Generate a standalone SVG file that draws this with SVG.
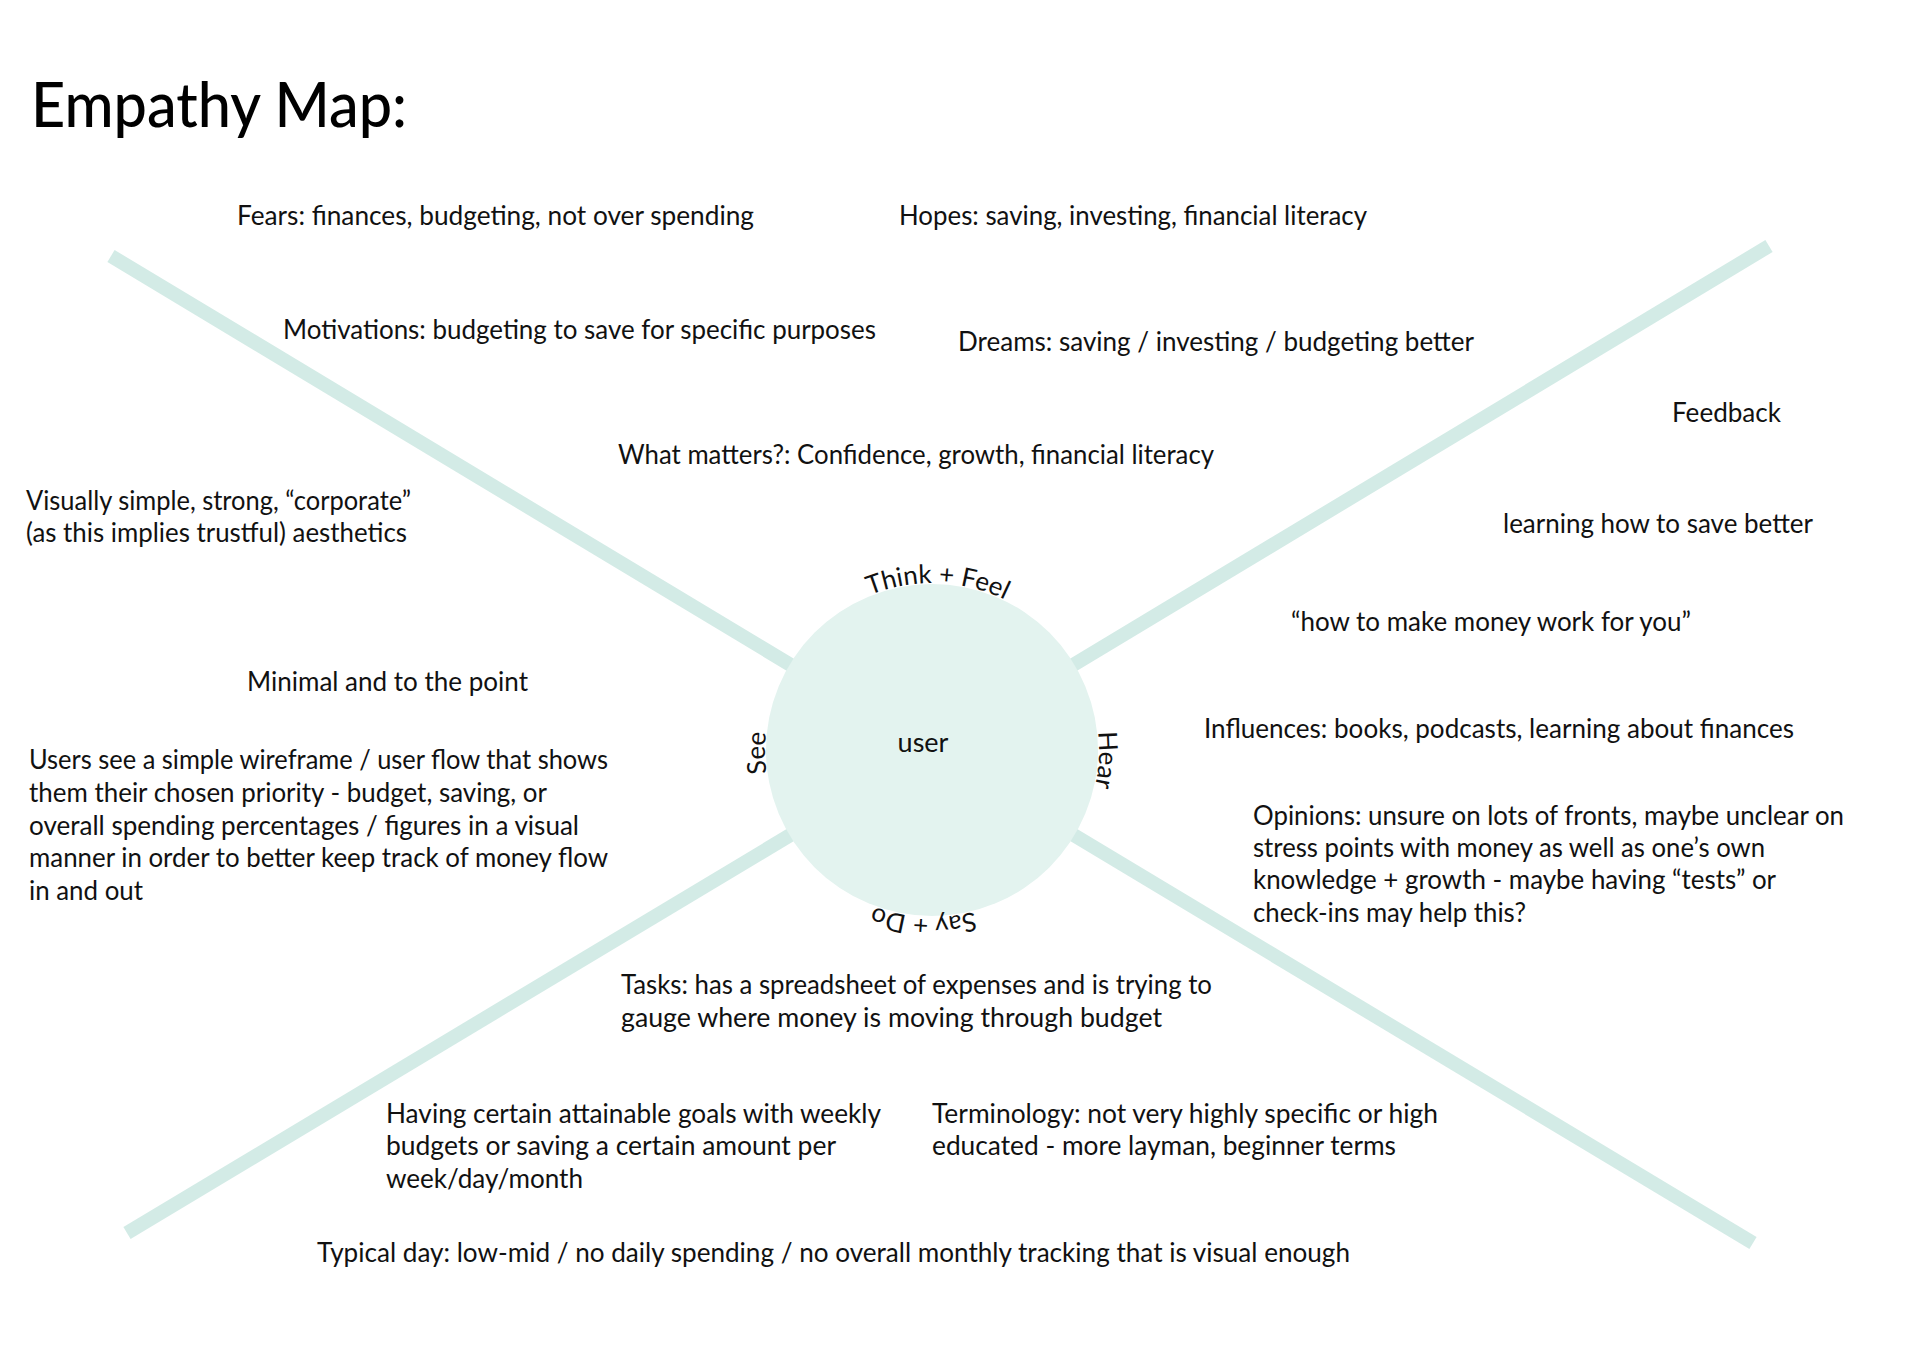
<svg xmlns="http://www.w3.org/2000/svg" xmlns:xlink="http://www.w3.org/1999/xlink" width="1920" height="1358" viewBox="0 0 1920 1358">
  <style>
    .t { font-family: Lato, "Open Sans", "Liberation Sans", sans-serif; font-size: 27px; fill: #111; }
    .ring { font-family: Lato, "Open Sans", "Liberation Sans", sans-serif; font-size: 26px; fill: #111; }
    .title { font-family: Lato, "Open Sans", "Liberation Sans", sans-serif; font-size: 61px; fill: #000; font-weight: 500; }
    .axis { stroke: #d3ebe6; stroke-width: 14; fill: none; }
    .hub { fill: #e3f3ef; }
  </style>
  <defs>
    <path id="ring" d="M 765,750 A 167 167 0 1 1 1099,750 A 167 167 0 1 1 765,750 A 167 167 0 1 1 1099,750 A 167 167 0 1 1 765,750"/>
  </defs>
  <rect width="1920" height="1358" fill="#fff"/>

  <g id="title">
    <text class="title" x="31" y="127" textLength="376" lengthAdjust="spacingAndGlyphs">Empathy Map:</text>
  </g>

  <g id="connectors">
    <line class="axis" x1="111" y1="256" x2="932" y2="750"/>
    <line class="axis" x1="1769" y1="246" x2="932" y2="750"/>
    <line class="axis" x1="127" y1="1233" x2="932" y2="750"/>
    <line class="axis" x1="1753" y1="1243" x2="932" y2="750"/>
  </g>

  <g id="user">
    <circle class="hub" cx="932" cy="750" r="166"/>
    <text class="t" x="923" y="752" text-anchor="middle">user</text>
    <text class="ring"><textPath xlink:href="#ring" href="#ring" startOffset="268" text-anchor="middle">Think + Feel</textPath></text>
    <text class="ring"><textPath xlink:href="#ring" href="#ring" startOffset="534" text-anchor="middle">Hear</textPath></text>
    <text class="ring"><textPath xlink:href="#ring" href="#ring" startOffset="795" text-anchor="middle">Say + Do</textPath></text>
    <text class="ring"><textPath xlink:href="#ring" href="#ring" startOffset="1046" text-anchor="middle">See</textPath></text>
  </g>

  <g id="fears">
    <text class="t" x="237" y="225" textLength="517" lengthAdjust="spacingAndGlyphs">Fears: finances, budgeting, not over spending</text>
  </g>
  <g id="hopes">
    <text class="t" x="899" y="225" textLength="468" lengthAdjust="spacingAndGlyphs">Hopes: saving, investing, financial literacy</text>
  </g>
  <g id="motivations">
    <text class="t" x="283" y="339" textLength="593" lengthAdjust="spacingAndGlyphs">Motivations: budgeting to save for specific purposes</text>
  </g>
  <g id="dreams">
    <text class="t" x="958" y="351" textLength="516" lengthAdjust="spacingAndGlyphs">Dreams: saving / investing / budgeting better</text>
  </g>
  <g id="feedback">
    <text class="t" x="1672" y="422" textLength="109" lengthAdjust="spacingAndGlyphs">Feedback</text>
  </g>
  <g id="what-matters">
    <text class="t" x="618" y="464" textLength="596" lengthAdjust="spacingAndGlyphs">What matters?: Confidence, growth, financial literacy</text>
  </g>
  <g id="visually">
    <text class="t" x="26" y="510" textLength="385" lengthAdjust="spacingAndGlyphs">Visually simple, strong, “corporate”</text>
    <text class="t" x="26" y="542" textLength="381" lengthAdjust="spacingAndGlyphs">(as this implies trustful) aesthetics</text>
  </g>
  <g id="learning">
    <text class="t" x="1503" y="533" textLength="310" lengthAdjust="spacingAndGlyphs">learning how to save better</text>
  </g>
  <g id="quote">
    <text class="t" x="1291" y="631" textLength="400" lengthAdjust="spacingAndGlyphs">“how to make money work for you”</text>
  </g>
  <g id="minimal">
    <text class="t" x="247" y="691" textLength="281" lengthAdjust="spacingAndGlyphs">Minimal and to the point</text>
  </g>
  <g id="influences">
    <text class="t" x="1204" y="738" textLength="590" lengthAdjust="spacingAndGlyphs">Influences: books, podcasts, learning about finances</text>
  </g>
  <g id="users-see">
    <text class="t" x="29" y="769" textLength="579" lengthAdjust="spacingAndGlyphs">Users see a simple wireframe / user flow that shows</text>
    <text class="t" x="29" y="802" textLength="518" lengthAdjust="spacingAndGlyphs">them their chosen priority - budget, saving, or</text>
    <text class="t" x="29" y="835" textLength="550" lengthAdjust="spacingAndGlyphs">overall spending percentages / figures in a visual</text>
    <text class="t" x="29" y="867" textLength="579" lengthAdjust="spacingAndGlyphs">manner in order to better keep track of money flow</text>
    <text class="t" x="29" y="900" textLength="114" lengthAdjust="spacingAndGlyphs">in and out</text>
  </g>
  <g id="opinions">
    <text class="t" x="1253" y="825" textLength="591" lengthAdjust="spacingAndGlyphs">Opinions: unsure on lots of fronts, maybe unclear on</text>
    <text class="t" x="1253" y="857" textLength="512" lengthAdjust="spacingAndGlyphs">stress points with money as well as one’s own</text>
    <text class="t" x="1253" y="889" textLength="523" lengthAdjust="spacingAndGlyphs">knowledge + growth - maybe having “tests” or</text>
    <text class="t" x="1253" y="922" textLength="273" lengthAdjust="spacingAndGlyphs">check-ins may help this?</text>
  </g>
  <g id="tasks">
    <text class="t" x="621" y="994" textLength="591" lengthAdjust="spacingAndGlyphs">Tasks: has a spreadsheet of expenses and is trying to</text>
    <text class="t" x="621" y="1027" textLength="541" lengthAdjust="spacingAndGlyphs">gauge where money is moving through budget</text>
  </g>
  <g id="goals">
    <text class="t" x="386" y="1123" textLength="495" lengthAdjust="spacingAndGlyphs">Having certain attainable goals with weekly</text>
    <text class="t" x="386" y="1155" textLength="450" lengthAdjust="spacingAndGlyphs">budgets or saving a certain amount per</text>
    <text class="t" x="386" y="1188" textLength="197" lengthAdjust="spacingAndGlyphs">week/day/month</text>
  </g>
  <g id="terminology">
    <text class="t" x="932" y="1123" textLength="506" lengthAdjust="spacingAndGlyphs">Terminology: not very highly specific or high</text>
    <text class="t" x="932" y="1155" textLength="464" lengthAdjust="spacingAndGlyphs">educated - more layman, beginner terms</text>
  </g>
  <g id="typical-day">
    <text class="t" x="317" y="1262" textLength="1033" lengthAdjust="spacingAndGlyphs">Typical day: low-mid / no daily spending / no overall monthly tracking that is visual enough</text>
  </g>
</svg>
